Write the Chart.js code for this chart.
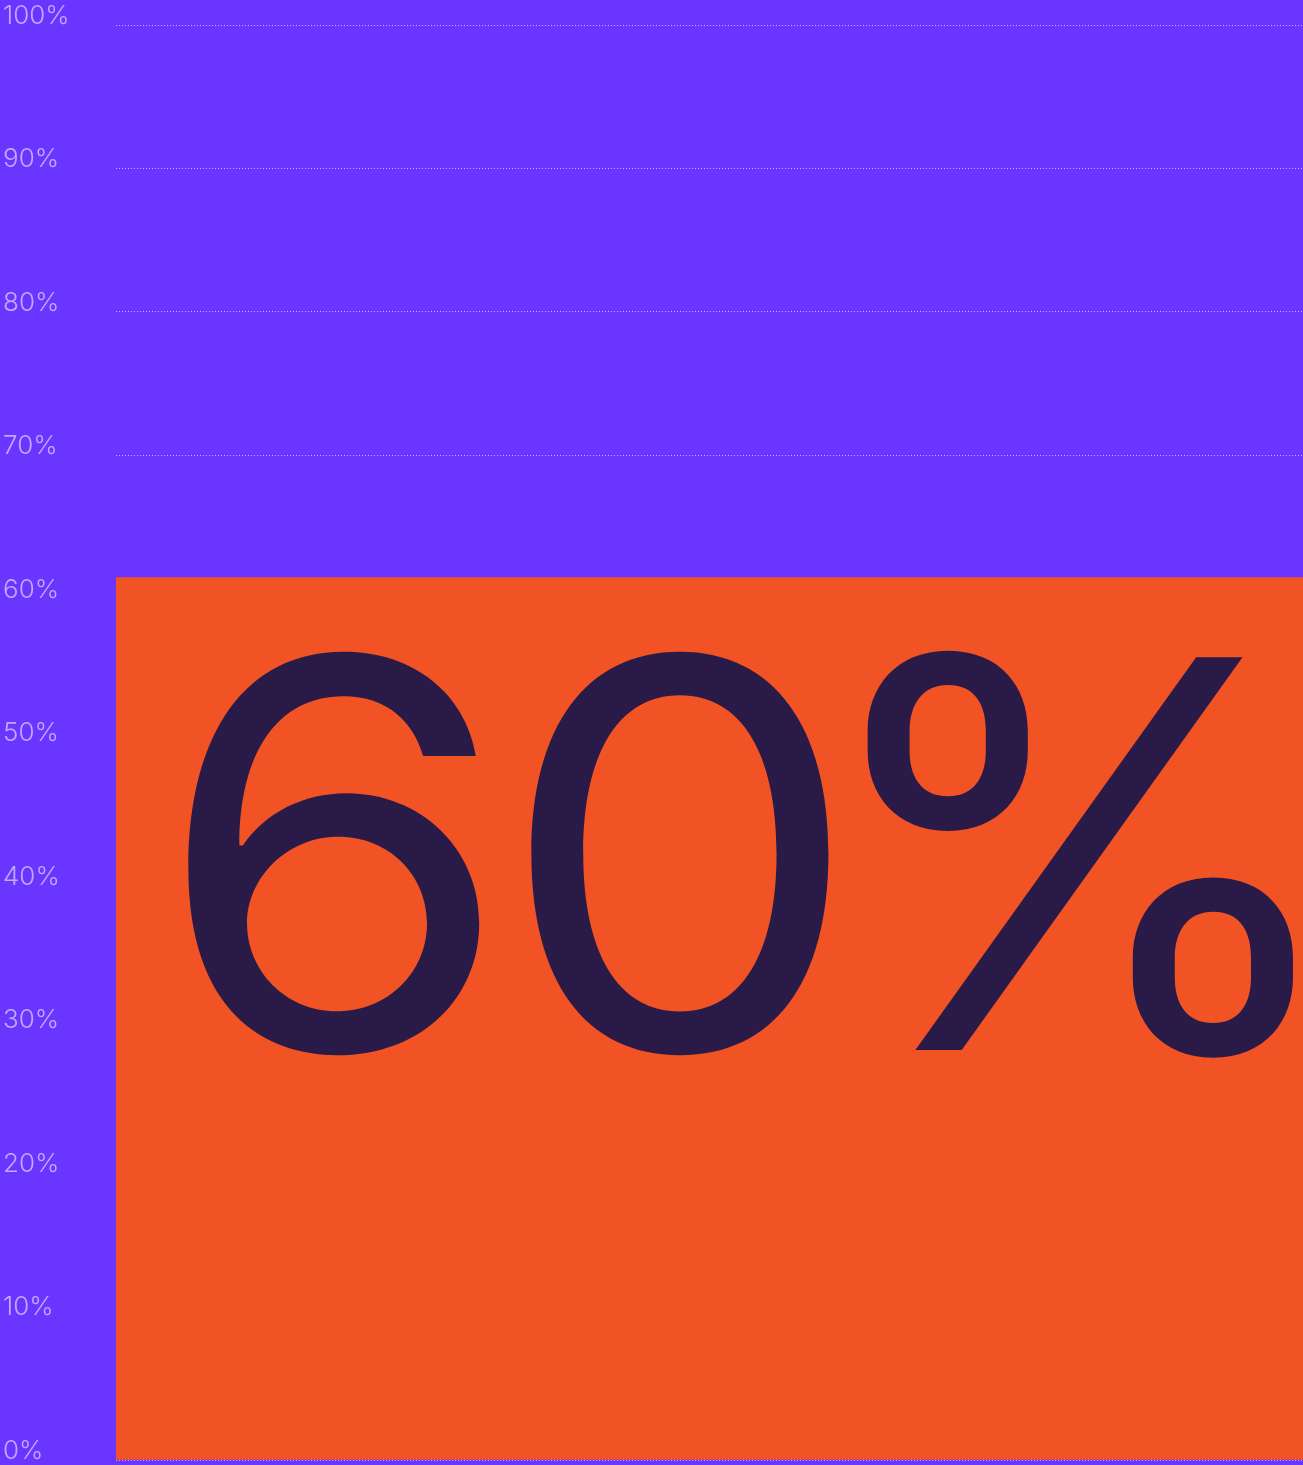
<!DOCTYPE html>
<html>
<head>
<meta charset="utf-8">
<script src="https://cdn.jsdelivr.net/npm/chart.js@4"></script>
<style>
  html, body { margin: 0; padding: 0; background: #6a35ff; }
  #wrap { width: 1303px; height: 1465px; }
</style>
</head>
<body>
<div id="wrap"><canvas id="shareChart"></canvas></div>
<script>
// data
var categories = ['Share'];
var shareValues = [61.5];
var bigLabelChars = ['6', '0', '%'];
var tickValues = [0, 10, 20, 30, 40, 50, 60, 70, 80, 90, 100];

// big "60%" drawn on top of the bar, glyph by glyph
var bigLabelPlugin = {
    id: 'bigLabel',
    afterDatasetsDraw: function(chart) {
        var ctx = chart.ctx;
        var inkLeft = [181, 524, 866];
        var stretch = [1.075, 1.075, 1.04];
        var baseline = 1050;
        ctx.save();
        ctx.fillStyle = '#2a1a48';
        ctx.font = '400 540px Inter';
        ctx.textAlign = 'left';
        ctx.textBaseline = 'alphabetic';
        for (var i = 0; i < bigLabelChars.length; i++) {
            var m = ctx.measureText(bigLabelChars[i]);
            ctx.save();
            ctx.translate(inkLeft[i], baseline);
            ctx.scale(stretch[i], 1);
            ctx.fillText(bigLabelChars[i], m.actualBoundingBoxLeft, 0);
            ctx.restore();
        }
        ctx.restore();
    }
};

var ctx = document.getElementById('shareChart');
var myChart = new Chart(ctx, {
    type: 'bar',
    data: {
        labels: categories,
        datasets: [{
            data: shareValues,
            backgroundColor: '#f15324',
            borderWidth: 0,
            categoryPercentage: 1,
            barPercentage: 1
        }]
    },
    options: {
        responsive: true,
        maintainAspectRatio: false,
        animation: false,
        layout: { padding: { top: 25, bottom: 5, left: 3, right: 0 } },
        plugins: { legend: { display: false }, tooltip: { enabled: false } },
        scales: {
            x: { display: false },
            y: {
                min: 0,
                max: 100,
                afterBuildTicks: function(axis) {
                    axis.ticks = tickValues.map(function(v) { return { value: v }; });
                },
                afterFit: function(axis) {
                    axis.width = 113;
                    axis.paddingTop = 0;
                    axis.paddingBottom = 0;
                },
                border: { display: false, dash: [1, 2] },
                grid: {
                    drawTicks: false,
                    color: 'rgba(210, 190, 255, 0.9)',
                    lineWidth: 1
                },
                ticks: {
                    crossAlign: 'far',
                    padding: 0,
                    labelOffset: -9,
                    color: 'rgba(205, 190, 255, 0.85)',
                    font: { family: 'Inter', size: 26, weight: 300 },
                    callback: function(v) { return v + '%'; }
                }
            }
        }
    },
    plugins: [bigLabelPlugin]
});
</script>
</body>
</html>
